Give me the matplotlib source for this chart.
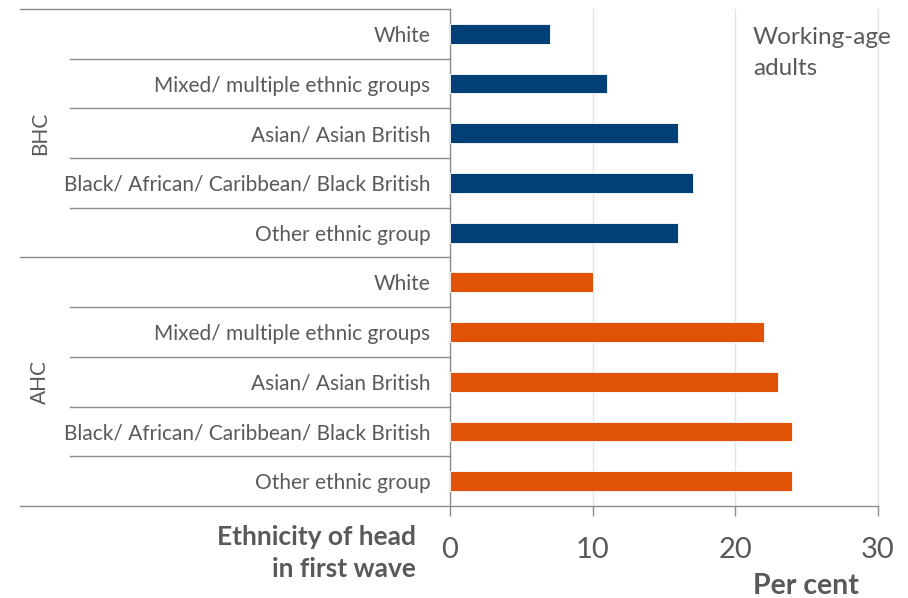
import matplotlib
matplotlib.use("Agg")
import matplotlib.pyplot as plt
import matplotlib.transforms as mtransforms

plt.rcParams['font.family'] = ['Lato', 'DejaVu Sans']

groups = ["BHC", "AHC"]
ethnicities = ["White", "Mixed/ multiple ethnic groups", "Asian/ Asian British",
               "Black/ African/ Caribbean/ Black British", "Other ethnic group"]
bhc_values = [7, 11, 16, 17, 16]
ahc_values = [10, 22, 23, 24, 24]
x_ticks = [0, 10, 20, 30]

BLUE = "#004077"
ORANGE = "#E05206"
TEXT = "#595959"
LINE = "#8C8C8C"
GRID = "#E3E3E3"

fig = plt.figure(figsize=(9.08, 5.98), dpi=100)
W, H = 908, 598
x0, x1, ytop, ybot = 450, 878, 9, 506
ax = fig.add_axes([x0 / W, 1 - ybot / H, (x1 - x0) / W, (ybot - ytop) / H])

labels = ethnicities + ethnicities
values = bhc_values + ahc_values
colors = [BLUE] * len(bhc_values) + [ORANGE] * len(ahc_values)
ypos = list(range(len(labels)))

ax.barh(ypos, values, height=0.4, color=colors, edgecolor="white", linewidth=0.6, zorder=3)

ax.set_xlim(0, 30)
ax.set_ylim(len(labels) - 0.5, -0.5)
ax.set_xticks(x_ticks)
ax.set_xticklabels([str(t) for t in x_ticks])
ax.set_yticks(ypos)
ax.set_yticklabels(labels)

ax.tick_params(axis="y", length=0, pad=14, labelsize=15, labelcolor=TEXT)
ax.tick_params(axis="x", length=7, width=1, color=LINE, pad=15, labelsize=21, labelcolor=TEXT)

ax.grid(axis="x", color=GRID, linewidth=1, zorder=0)
for s in ["top", "right"]:
    ax.spines[s].set_visible(False)
for s in ["left", "bottom"]:
    ax.spines[s].set_color(LINE)
    ax.spines[s].set_linewidth(1)
ax.axvline(30, color=GRID, linewidth=1, zorder=0, clip_on=False)

# Category and group separators extending into the label area
trans = mtransforms.blended_transform_factory(ax.transAxes, ax.transData)
inner_left = (70 - x0) / (x1 - x0)
outer_left = (20 - x0) / (x1 - x0)
for y in [i + 0.5 for i in range(len(labels) - 1)] + [-0.5]:
    if y in (-0.5, 4.5):
        left = outer_left
    else:
        left = inner_left
    ax.plot([left, 0], [y, y], transform=trans, color=LINE, linewidth=1,
            clip_on=False, zorder=4)
ax.plot([outer_left, 0], [9.5, 9.5], transform=trans, color=LINE, linewidth=1,
        clip_on=False, zorder=4)

# Group labels
gx = (40 - x0) / (x1 - x0)
for g, yc in zip(groups, [2, 7]):
    ax.text(gx, yc, g, transform=trans, rotation=90, ha="center", va="center",
            fontsize=15, color=TEXT)

fig.text(753 / W, 1 - 53 / H, "Working-age\nadults", ha="left", va="center",
         fontsize=17.5, color=TEXT, linespacing=1.55)

fig.text(416 / W, 1 - 553 / H, "Ethnicity of head\nin first wave", ha="right",
         va="center", fontsize=19, fontweight="bold", color=TEXT, linespacing=1.4)
fig.text(806 / W, 1 - 586 / H, "Per cent", ha="center", va="center",
         fontsize=20.5, fontweight="bold", color=TEXT)

fig.savefig("out.png", dpi=100)
